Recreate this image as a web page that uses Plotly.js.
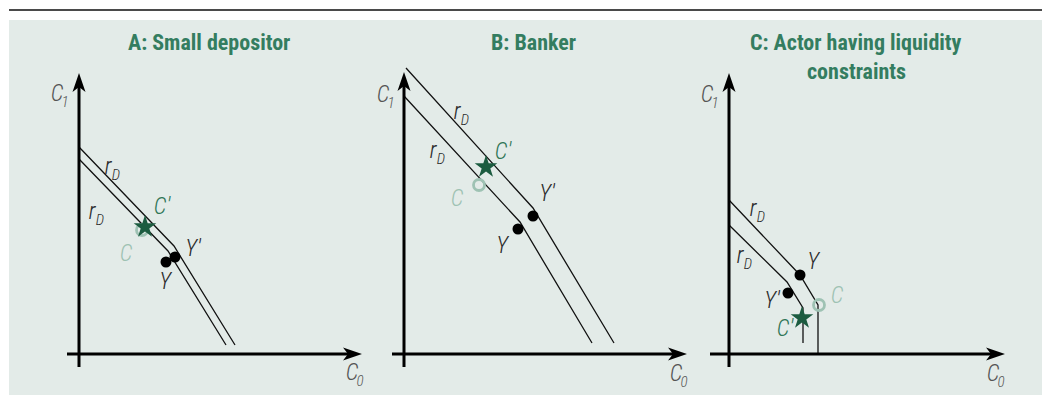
<!DOCTYPE html>
<html>
<head>
<meta charset="utf-8">
<script src="https://cdn.plot.ly/plotly-3.0.1.min.js"></script>
<style>html,body{margin:0;padding:0;background:#fff;}#chart{width:1043px;height:395px;}
text{font-stretch:condensed;}</style>
</head>
<body>
<div id="chart"></div>
<script>
// ---- Data (abstract C0 / C1 units, origin at the axis crossing) ----
const panelTitles = ["A: Small depositor", "B: Banker", "C: Actor having liquidity", "constraints"];

// Panel A: small depositor
const aUpperC0 = [0, 9.5, 15.6];
const aUpperC1 = [20.7, 10.8, 0.9];
const aLowerC0 = [0, 8.9, 14.7];
const aLowerC1 = [19.5, 10.3, 0.9];
const aY = [8.7, 9.2], aYp = [9.6, 9.7], aCp = [6.6, 12.7], aC = [6.3, 12.4];

// Panel B: banker
const bUpperC0 = [0.2, 12.9, 21.0];
const bUpperC1 = [28.6, 14.6, 1.1];
const bLowerC0 = [0, 11.6, 18.8];
const bLowerC1 = [25.8, 13.2, 1.1];
const bY = [11.4, 12.5], bYp = [12.9, 13.8], bCp = [8.2, 18.7], bC = [7.5, 16.9];

// Panel C: liquidity constrained actor
const cUpperC0 = [0, 7.1, 8.9, 8.9];
const cUpperC1 = [15.4, 7.9, 4.9, 0.1];
const cLowerC0 = [0, 5.8, 7.4, 7.4];
const cLowerC1 = [12.9, 7.2, 4.6, 1.1];
const cY = [7.1, 7.9], cYp = [5.9, 6.1], cCp = [7.3, 3.6], cC = [9.0, 4.9];

// labels [text, subscript, c0, c1, kind]
const aLabels = [["Y", "", 8.6, 7.1, "k"], ["Y'", "", 11.4, 10.4, "k"], ["C'", "", 8.3, 14.6, "g"], ["C", "", 4.7, 9.9, "l"],
                 ["r", "D", 2.9, 18.6, "k"], ["r", "D", 1.3, 14.1, "k"],
                 ["C", "1", -2.2, 25.9, "a"], ["C", "0", 27.3, -2.0, "a"]];
const bLabels = [["Y", "", 9.8, 10.7, "k"], ["Y'", "", 14.3, 15.9, "k"], ["C'", "", 9.9, 20.1, "g"], ["C", "", 5.3, 15.4, "l"],
                 ["r", "D", 5.3, 24.1, "k"], ["r", "D", 2.9, 20.2, "k"],
                 ["C", "1", -2.1, 25.8, "a"], ["C", "0", 27.2, -2.1, "a"]];
const cLabels = [["Y", "", 8.4, 9.1, "k"], ["Y'", "", 4.3, 5.2, "k"], ["C'", "", 5.6, 2.4, "g"], ["C", "", 10.8, 5.7, "l"],
                 ["r", "D", 2.4, 14.4, "k"], ["r", "D", 1.1, 9.7, "k"],
                 ["C", "1", -2.2, 25.8, "a"], ["C", "0", 26.4, -2.1, "a"]];

// axis extents per panel: [x start, x tip, y start, y tip]
const axisExt = [[-1.2, 28.3, -1.3, 28.1], [-1.2, 28.3, -1.3, 28.2], [-1.9, 27.6, -1.3, 28.1]];

// ---- Styles ----
const W = 1043, H = 395;
const TITLE_FONT = "Roboto, 'Liberation Sans', sans-serif";
const LABEL_FONT = "Roboto, 'Liberation Sans', sans-serif";
const colTitle = "#347d60", colStar = "#1c5c40", colCp = "#2f7657", colC = "#9ec2b3";
const labelCol = {k: "#2a2a2a", g: colCp, l: colC, a: "#555555"};
const subOffset = [0.8, -0.8];

const panels = [
  {up: [aUpperC0, aUpperC1], lo: [aLowerC0, aLowerC1], Y: aY, Yp: aYp, Cp: aCp, C: aC, labels: aLabels, origin: 79},
  {up: [bUpperC0, bUpperC1], lo: [bLowerC0, bLowerC1], Y: bY, Yp: bYp, Cp: bCp, C: bC, labels: bLabels, origin: 404},
  {up: [cUpperC0, cUpperC1], lo: [cLowerC0, cLowerC1], Y: cY, Yp: cYp, Cp: cCp, C: cC, labels: cLabels, origin: 729}
];

const xr = [-2.5, 29.5], yr = [-3, 31];
const pxPerUnit = 10;
const originY = 354;
const yDomain = [(H - (originY - yr[0] * pxPerUnit)) / H, (H - (originY - yr[1] * pxPerUnit)) / H];

const traces = [], annotations = [], shapes = [];
const layout = {
  width: W, height: H, margin: {l: 0, r: 0, t: 0, b: 0},
  paper_bgcolor: "#ffffff", plot_bgcolor: "rgba(0,0,0,0)", showlegend: false,
  font: {family: LABEL_FONT}
};

// background panel and top rule
shapes.push({type: "rect", xref: "paper", yref: "paper", x0: 9 / W, x1: 1042 / W, y0: 0, y1: (H - 20) / H,
  fillcolor: "#e3ebe8", line: {width: 0}, layer: "below"});
shapes.push({type: "line", xref: "paper", yref: "paper", x0: 9 / W, x1: 1042 / W, y0: (H - 10) / H, y1: (H - 10) / H,
  line: {color: "#4a4a4a", width: 2.2}});

panels.forEach((p, i) => {
  const sfx = i === 0 ? "" : String(i + 1);
  const xa = "x" + sfx, ya = "y" + sfx;
  const left = p.origin + xr[0] * pxPerUnit, right = p.origin + xr[1] * pxPerUnit;
  const ax = {range: xr, domain: [left / W, right / W], showgrid: false, zeroline: false, showticklabels: false,
    showline: false, ticks: "", fixedrange: true, anchor: ya};
  const ay = {range: yr, domain: yDomain, showgrid: false, zeroline: false, showticklabels: false,
    showline: false, ticks: "", fixedrange: true, anchor: xa};
  layout["xaxis" + sfx] = ax;
  layout["yaxis" + sfx] = ay;

  const line = {color: "#111111", width: 1.3};
  traces.push({type: "scatter", mode: "lines", x: p.up[0], y: p.up[1], xaxis: xa, yaxis: ya, line: line, hoverinfo: "skip"});
  traces.push({type: "scatter", mode: "lines", x: p.lo[0], y: p.lo[1], xaxis: xa, yaxis: ya, line: line, hoverinfo: "skip"});
  traces.push({type: "scatter", mode: "markers", x: [p.C[0]], y: [p.C[1]], xaxis: xa, yaxis: ya,
    marker: {symbol: "circle-open", size: 11, color: colC, line: {width: 2.8, color: colC}}, hoverinfo: "skip"});
  traces.push({type: "scatter", mode: "markers", x: [p.Y[0], p.Yp[0]], y: [p.Y[1], p.Yp[1]], xaxis: xa, yaxis: ya,
    marker: {symbol: "circle", size: 11, color: "#000000"}, hoverinfo: "skip"});
  traces.push({type: "scatter", mode: "markers", x: [p.Cp[0]], y: [p.Cp[1]], xaxis: xa, yaxis: ya,
    marker: {symbol: "star", size: 17, color: colStar}, hoverinfo: "skip"});

  // axes with arrowheads
  const e = axisExt[i];
  shapes.push({type: "line", xref: xa, yref: ya, x0: e[0], x1: e[1] - 1, y0: 0, y1: 0, line: {color: "#000", width: 3}});
  shapes.push({type: "line", xref: xa, yref: ya, x0: 0, x1: 0, y0: e[2], y1: e[3] - 1, line: {color: "#000", width: 3}});
  shapes.push({type: "path", xref: xa, yref: ya, xsizemode: "pixel", ysizemode: "pixel", xanchor: e[1], yanchor: 0,
    path: "M0,0 L-19,6.5 L-14,0 L-19,-6.5 Z", fillcolor: "#000", line: {width: 0}});
  shapes.push({type: "path", xref: xa, yref: ya, xsizemode: "pixel", ysizemode: "pixel", xanchor: 0, yanchor: e[3],
    path: "M0,0 L-6.5,-19 L0,-14 L6.5,-19 Z", fillcolor: "#000", line: {width: 0}});

  // main labels
  traces.push({type: "scatter", mode: "text", xaxis: xa, yaxis: ya, cliponaxis: false, hoverinfo: "skip",
    x: p.labels.map(l => l[2]), y: p.labels.map(l => l[3]), text: p.labels.map(l => l[0]),
    textposition: "middle center",
    textfont: {family: LABEL_FONT, size: 23, weight: 300, style: "italic", color: p.labels.map(l => labelCol[l[4]])}});
  // subscripts
  const subs = p.labels.filter(l => l[1] !== "");
  traces.push({type: "scatter", mode: "text", xaxis: xa, yaxis: ya, cliponaxis: false, hoverinfo: "skip",
    x: subs.map(l => l[2] + subOffset[0]), y: subs.map(l => l[3] + subOffset[1]), text: subs.map(l => l[1]),
    textposition: "middle center",
    textfont: {family: LABEL_FONT, size: 15, weight: 300, style: "italic", color: subs.map(l => labelCol[l[4]])}});
});

// panel titles
const titlePos = [[209, 42], [533, 42], [856, 42], [856, 72]];
panelTitles.forEach((t, i) => {
  annotations.push({xref: "paper", yref: "paper", x: titlePos[i][0] / W, y: 1 - titlePos[i][1] / H, text: t,
    showarrow: false, xanchor: "center", yanchor: "middle",
    font: {family: TITLE_FONT, size: 22, weight: 700, color: colTitle}});
});

layout.shapes = shapes;
layout.annotations = annotations;
Plotly.newPlot("chart", traces, layout, {displayModeBar: false, staticPlot: true});
</script>
</body>
</html>
